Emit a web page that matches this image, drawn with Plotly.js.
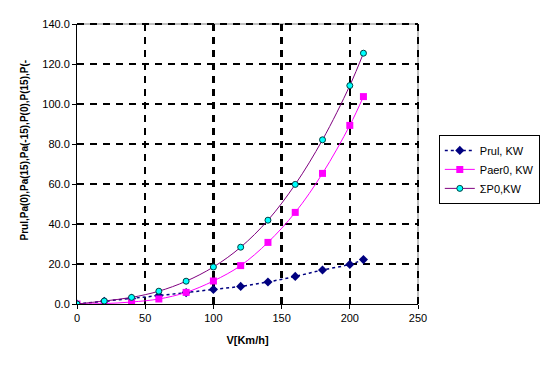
<!DOCTYPE html>
<html>
<head>
<meta charset="utf-8">
<script src="https://cdn.plot.ly/plotly-3.0.1.min.js"></script>
<style>html,body{margin:0;padding:0;background:#fff;}#chart{width:552px;height:367px;}</style>
</head>
<body>
<div id="chart"></div>
<script>
const speeds = [0, 20, 40, 60, 80, 100, 120, 140, 160, 180, 200, 210];
const prul   = [0, 1.4, 2.8, 4.2, 5.7, 7.3, 8.8, 11.0, 13.8, 17.0, 19.8, 22.2];
const paer0  = [0, 0.2, 1.0, 2.5, 5.8, 11.5, 19.2, 30.8, 45.8, 65.3, 89.3, 103.7];
const sumP0  = [0, 1.5, 3.3, 6.4, 11.4, 18.5, 28.4, 41.9, 59.8, 82.1, 109.2, 125.4];
const seriesNames = ["Prul, KW", "Paer0, KW", "\u03A3P0,KW"];
const yTickVals = [0, 20, 40, 60, 80, 100, 120, 140];
const yTickText = ["0.0", "20.0", "40.0", "60.0", "80.0", "100.0", "120.0", "140.0"];
const xTickVals = [0, 50, 100, 150, 200, 250];

const font = "Arial, 'Liberation Sans', sans-serif";
const traces = [
  {x: speeds, y: prul, name: seriesNames[0], mode: "lines+markers",
   line: {color: "#000080", width: 1.5, dash: "dot", shape: "spline"},
   marker: {symbol: "diamond", size: 7, color: "#000080"}},
  {x: speeds, y: paer0, name: seriesNames[1], mode: "lines+markers",
   line: {color: "#FF00FF", width: 1, shape: "spline"},
   marker: {symbol: "square", size: 7, color: "#FF00FF"}},
  {x: speeds, y: sumP0, name: seriesNames[2], mode: "lines+markers",
   line: {color: "#800080", width: 1, shape: "spline"},
   marker: {symbol: "circle", size: 6, color: "#00FFFF", line: {color: "#004040", width: 1}}}
];

const gridDash = "7px,6px";
const layout = {
  width: 552, height: 367,
  margin: {l: 77, r: 131, t: 24, b: 63},
  paper_bgcolor: "#fff", plot_bgcolor: "#fff",
  font: {family: font, size: 11, color: "#000"},
  showlegend: true,
  legend: {x: 1.061, y: 0.604, xanchor: "left", yanchor: "top",
           bordercolor: "#000", borderwidth: 1, font: {size: 11, family: font},
           tracegroupgap: 0, itemwidth: 30},
  xaxis: {range: [0, 250], tickvals: xTickVals, ticks: "outside", ticklen: 4,
          tickcolor: "#000", showline: true, linecolor: "#000", linewidth: 1,
          zeroline: false, showgrid: true, gridcolor: "#000", gridwidth: 2.5,
          griddash: gridDash, tickfont: {size: 11},
          title: {text: "<b>V[Km/h]</b>", font: {size: 11}, standoff: 13}},
  yaxis: {range: [0, 140], tickvals: yTickVals, ticktext: yTickText, ticks: "outside",
          ticklen: 4, tickcolor: "#000", showline: true, linecolor: "#000", linewidth: 1,
          zeroline: false, showgrid: true, gridcolor: "#000", gridwidth: 2.5,
          griddash: gridDash, tickfont: {size: 11}},
  shapes: [
    {type: "line", xref: "paper", yref: "paper", x0: 0, x1: 1, y0: 1, y1: 1,
     line: {color: "#808080", width: 1}, layer: "below"},
    {type: "line", xref: "paper", yref: "paper", x0: 1, x1: 1, y0: 0, y1: 1,
     line: {color: "#808080", width: 1}, layer: "below"},
    {type: "line", xref: "paper", yref: "paper", x0: 0, x1: 1, y0: 1, y1: 1,
     line: {color: "#000", width: 2, dash: gridDash}, layer: "below"},
    {type: "line", xref: "paper", yref: "paper", x0: 1, x1: 1, y0: 0, y1: 1,
     line: {color: "#000", width: 2, dash: gridDash}, layer: "below"}
  ],
  annotations: [
    {text: "<b>Prul,Pa(0),Pa(15),Pa(-15),P(0),P(15),P(-</b>", textangle: -90,
     xref: "paper", yref: "paper", x: -0.154, y: 0.55, xanchor: "center", yanchor: "middle",
     showarrow: false, font: {size: 10, family: font}}
  ]
};
Plotly.newPlot("chart", traces, layout, {displayModeBar: false, staticPlot: true});
</script>
</body>
</html>
